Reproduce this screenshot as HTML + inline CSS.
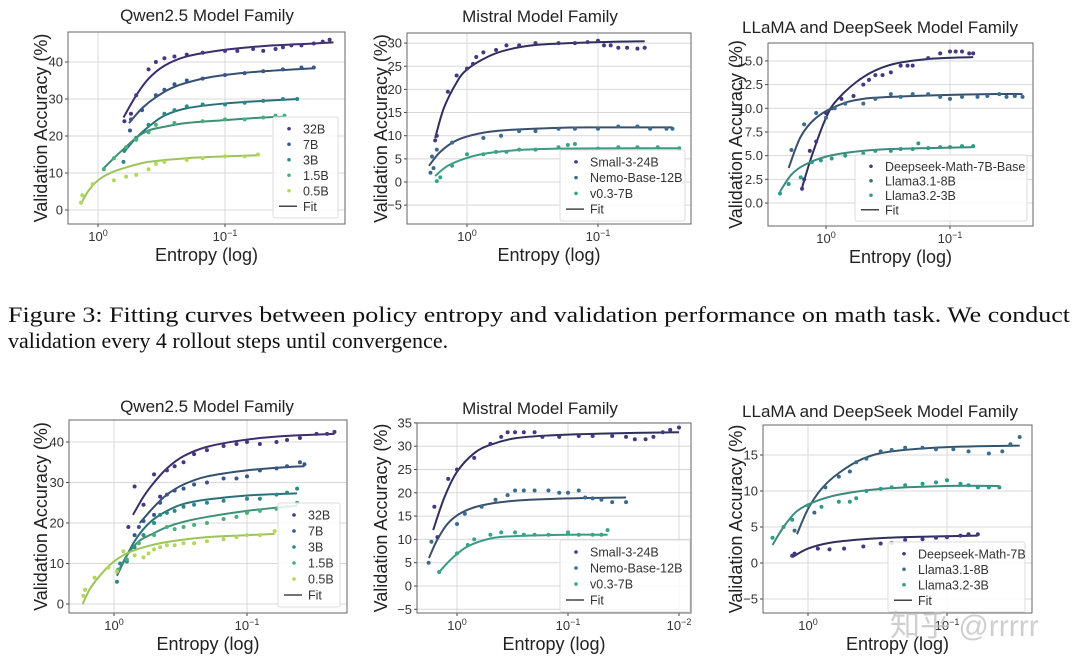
<!DOCTYPE html>
<html><head><meta charset="utf-8"><style>
html,body{margin:0;padding:0;background:#fff;}
svg{display:block;font-family:"Liberation Sans","DejaVu Sans",sans-serif;}
</style></head><body>
<svg id="fig" width="1080" height="666" viewBox="0 0 1080 666" xmlns="http://www.w3.org/2000/svg">
<text x="8" y="322" font-family="Liberation Serif, serif" font-size="22" fill="#111" textLength="1062" lengthAdjust="spacingAndGlyphs">Figure 3: Fitting curves between policy entropy and validation performance on math task. We conduct</text>
<text x="8" y="348" font-family="Liberation Serif, serif" font-size="22" fill="#111">validation every 4 rollout steps until convergence.</text>
</svg>
<script>
const qTopNames = ["32B","7B","3B","1.5B","0.5B"];
const qTop32E = [0.62,0.55,0.5,0.4,0.35,0.3,0.25,0.2,0.15,0.1,0.08,0.06,0.05,0.04,0.035,0.03,0.025,0.02,0.017,0.015];
const qTop32A = [24,26,31,38,40,41,41.5,42,42.5,43,43,43.5,43,43.5,44,44.5,44.5,45,45.5,46];
const qTop32FE = [0.63,0.5,0.4,0.3,0.2,0.1,0.05,0.02,0.014];
const qTop32FA = [25,31,35.5,39,41.5,43.3,44.3,45,45.3];
const qTop7E = [0.56,0.55,0.45,0.35,0.3,0.25,0.2,0.15,0.1,0.07,0.05,0.035,0.025,0.02];
const qTop7A = [21.5,24.5,27,31,32.5,34,35,35.5,36.5,37,37.5,38,38.5,38.5];
const qTop7FE = [0.57,0.45,0.35,0.25,0.15,0.1,0.05,0.02];
const qTop7FA = [23.5,27.5,30.5,33.3,35.5,36.5,37.5,38.3];
const qTop3E = [0.63,0.62,0.5,0.4,0.3,0.25,0.2,0.15,0.1,0.07,0.05,0.035,0.027];
const qTop3A = [13,16,19.5,23,26,27,28,28.5,28.5,29,29.5,30,30];
const qTop3FE = [0.63,0.5,0.4,0.3,0.2,0.1,0.05,0.027];
const qTop3FA = [15.5,19.5,22.5,25.5,27.5,28.8,29.5,30];
const qTop15E = [0.9,0.75,0.6,0.5,0.4,0.35,0.25,0.15,0.1,0.07,0.05,0.04,0.034];
const qTop15A = [11,14,17,19,21,23,23.5,24,24.5,24.5,25,25.5,25.5];
const qTop15FE = [0.92,0.7,0.5,0.4,0.3,0.2,0.1,0.05,0.034];
const qTop15FA = [11,15,19.5,21.5,22.5,23.5,24.3,25,25.2];
const qTop05E = [1.36,1.33,1.1,0.75,0.6,0.5,0.4,0.35,0.3,0.2,0.15,0.1,0.07,0.055];
const qTop05A = [2,4,7,8,9,9.5,11,12.5,13,13.5,14,14.5,14.5,15];
const qTop05FE = [1.37,1.2,1.0,0.8,0.6,0.4,0.2,0.1,0.055];
const qTop05FA = [1.5,5,8,10,11.5,13,14,14.5,14.8];

const mTopNames = ["Small-3-24B","Nemo-Base-12B","v0.3-7B"];
const mTopSE = [1.75,1.7,1.4,1.2,1.0,0.9,0.85,0.75,0.6,0.5,0.4,0.3,0.2,0.15,0.12,0.1,0.09,0.08,0.07,0.06,0.05,0.044];
const mTopSA = [9,10,19.5,23,24.5,25.5,27,28,28.5,29.5,29.5,30,30,30,30.2,30.5,29.5,29.5,29,29,28.8,29];
const mTopSFE = [1.75,1.5,1.2,1.0,0.7,0.5,0.3,0.1,0.044];
const mTopSFA = [9.5,16,21.5,24.3,27,28.5,29.6,30.2,30.4];
const mTopNE = [1.9,1.85,1.8,1.7,1.3,0.75,0.55,0.4,0.3,0.2,0.15,0.1,0.07,0.05,0.04,0.03,0.027];
const mTopNA = [2,5.5,3,7,8.5,9.5,10,11,11,11.5,11.5,11.5,12,12,11.5,11.5,11.5];
const mTopNFE = [1.95,1.6,1.2,0.8,0.5,0.2,0.1,0.027];
const mTopNFA = [3.5,6.5,9,10.5,11.2,11.7,11.8,11.8];
const mTopVE = [1.7,1.6,1.3,1.0,0.75,0.6,0.5,0.4,0.3,0.2,0.17,0.15,0.1,0.07,0.05,0.035,0.024];
const mTopVA = [0.2,1,3.5,6,6,6.5,6.5,7,7,7.5,8,8.2,7.2,7.5,7.5,7.5,7.3];
const mTopVFE = [1.75,1.4,1.0,0.7,0.4,0.2,0.05,0.024];
const mTopVFA = [1.3,3.5,5.2,6.2,6.9,7.2,7.3,7.3];

const lTopNames = ["Deepseek-Math-7B-Base","Llama3.1-8B","Llama3.2-3B"];
const lTopDE = [1.56,1.5,1.35,1.2,1.0,0.9,0.75,0.6,0.5,0.45,0.4,0.35,0.3,0.25,0.22,0.2,0.15,0.12,0.1,0.09,0.08,0.07,0.065];
const lTopDA = [1.5,2.5,5.5,6.5,9.5,10,11,11.3,12.5,13,13.5,13.5,13.8,14.5,14.5,14.5,15.3,15.8,16,16,16,15.8,15.8];
const lTopDFE = [1.57,1.3,1.0,0.8,0.5,0.3,0.15,0.065];
const lTopDFA = [1.5,5,9,11,13.3,14.6,15.2,15.4];
const lTop1E = [1.9,1.5,1.2,1.0,0.85,0.7,0.5,0.4,0.3,0.25,0.2,0.15,0.12,0.1,0.08,0.06,0.05,0.04,0.035,0.03,0.026];
const lTop1A = [5.6,8.3,9.5,9,10,10.5,10.5,11,11.5,11.2,11.5,11.5,11.2,11,11.2,11.2,11.3,11.5,11.2,11.3,11.2];
const lTop1FE = [2.0,1.6,1.2,0.8,0.5,0.2,0.05,0.026];
const lTop1FA = [3.7,7,9,10.3,11,11.3,11.5,11.5];
const lTop2E = [2.35,2.0,1.6,1.3,1.1,0.9,0.7,0.5,0.4,0.3,0.25,0.2,0.18,0.15,0.12,0.1,0.08,0.065];
const lTop2A = [1,2,2.7,4.3,4.5,4.7,5,5.2,5.5,5.5,5.7,5.7,6.3,5.8,5.9,5.9,6,6];
const lTop2FE = [2.35,1.9,1.5,1.0,0.6,0.3,0.065];
const lTop2FA = [1.2,3,4,4.9,5.4,5.7,5.9];

const qBotNames = ["32B","7B","3B","1.5B","0.5B"];
const qBot32E = [0.78,0.7,0.6,0.5,0.45,0.4,0.35,0.3,0.25,0.2,0.15,0.12,0.1,0.08,0.06,0.05,0.04,0.03,0.025,0.022];
const qBot32A = [19,29,24.5,32,26.5,33,34,35,37,38,39,39.5,40,39.5,40,40.5,41,42,42,42.5];
const qBot32FE = [0.72,0.6,0.5,0.4,0.3,0.2,0.1,0.05,0.022];
const qBot32FA = [22,26.5,30,33.5,36.5,38.8,40.6,41.5,42];
const qBot7E = [0.7,0.65,0.6,0.5,0.45,0.4,0.35,0.3,0.25,0.2,0.15,0.12,0.1,0.08,0.06,0.05,0.04,0.037];
const qBot7A = [17,19,20.5,22,25,27,28,28.5,29.5,30,31,31,31.5,33,33.5,34,35,34.5];
const qBot7FE = [0.64,0.5,0.4,0.3,0.2,0.1,0.05,0.037];
const qBot7FA = [20,24,27,29.5,31.5,33,33.8,34];
const qBot3E = [0.95,0.9,0.8,0.7,0.6,0.5,0.45,0.4,0.35,0.3,0.25,0.2,0.15,0.1,0.08,0.06,0.05,0.042];
const qBot3A = [5.5,10,10.5,14,17,20,22,22.5,23,24,24.5,25,25.5,26,26,27,27.5,28.5];
const qBot3FE = [0.95,0.8,0.7,0.6,0.5,0.4,0.3,0.2,0.1,0.042];
const qBot3FA = [7,12,15.5,18.5,21,23,24.7,25.8,26.8,27.3];
const qBot15E = [0.93,0.8,0.65,0.5,0.4,0.35,0.3,0.25,0.2,0.15,0.12,0.1,0.08,0.06,0.05,0.042];
const qBot15A = [8.5,11,15,17,19,18.5,19,19.5,20,21,21.5,22.5,23,23.5,24,25];
const qBot15FE = [0.93,0.8,0.65,0.5,0.4,0.3,0.2,0.1,0.042];
const qBot15FA = [8,12,15.5,17.5,19,20.3,21.5,23,24.3];
const qBot05E = [1.7,1.65,1.4,1.1,0.95,0.85,0.7,0.6,0.55,0.5,0.45,0.4,0.35,0.3,0.25,0.2,0.15,0.12,0.1,0.08,0.062];
const qBot05A = [2,3.5,6.5,9,8,13,12,11.5,12.5,13.5,14,14.5,14.5,15,15,15.5,16,16.5,17,17,18];
const qBot05FE = [1.72,1.5,1.2,1.0,0.8,0.6,0.4,0.2,0.1,0.062];
const qBot05FA = [0,4,8,10.5,12.5,14,15.3,16.5,17,17.3];

const mBotNames = ["Small-3-24B","Nemo-Base-12B","v0.3-7B"];
const mBotSE = [1.6,1.5,1.2,1.0,0.7,0.5,0.4,0.35,0.3,0.25,0.2,0.17,0.12,0.08,0.06,0.04,0.03,0.025,0.02,0.017,0.014,0.012,0.01];
const mBotSA = [17,10.5,23,25,27.5,30.5,32,33,33,33,33,32,32,32.2,32.2,32.2,32,31.5,31.5,32,33,33.5,34];
const mBotSFE = [1.64,1.3,1.0,0.7,0.5,0.3,0.15,0.05,0.01];
const mBotSFA = [12,19,24.5,28.5,30.3,31.7,32.3,32.7,33];
const mBotNE = [1.8,1.7,1.0,0.85,0.6,0.45,0.35,0.3,0.25,0.2,0.15,0.12,0.1,0.08,0.07,0.06,0.05,0.04,0.03];
const mBotNA = [5,9.5,13.3,15.5,17,18.5,19.5,20.5,20.5,20.5,20.5,20,20,20.5,19,18.8,18.5,18,18];
const mBotNFE = [1.79,1.5,1.2,0.9,0.6,0.3,0.1,0.03];
const mBotNFA = [6,10,13.5,15.8,17.3,18.3,18.8,19];
const mBotVE = [1.45,1.0,0.8,0.7,0.5,0.4,0.3,0.25,0.2,0.15,0.1,0.08,0.06,0.05,0.044];
const mBotVA = [3,7,8.8,10,11,11.5,11.5,11,11,11,11.5,11,11,11,12];
const mBotVFE = [1.45,1.1,0.8,0.5,0.3,0.1,0.044];
const mBotVFA = [3,6,8.5,10.2,10.7,11,11];

const lBotNames = ["Deepseek-Math-7B","Llama3.1-8B","Llama3.2-3B"];
const lBotDE = [1.3,1.25,0.85,0.7,0.55,0.4,0.3,0.25,0.2,0.15,0.12,0.1,0.08,0.07,0.06];
const lBotDA = [1,1.3,2,1.9,2,2.3,2.7,2.8,3.2,3.3,3.5,3.6,3.8,4,4];
const lBotDFE = [1.3,1.0,0.7,0.4,0.2,0.06];
const lBotDFA = [0.8,2,2.8,3.3,3.6,3.8];
const lBot1E = [1.25,0.9,0.75,0.6,0.5,0.45,0.38,0.3,0.25,0.2,0.15,0.12,0.09,0.07,0.05,0.04,0.035,0.03];
const lBot1A = [4.5,7,10.5,12,12.7,14,14.5,15.5,15.7,16,16,15.8,15.8,15.5,15.2,15.5,16.5,17.5];
const lBot1FE = [1.2,1.0,0.8,0.6,0.4,0.25,0.1,0.03];
const lBot1FA = [4,7.5,10.3,12.5,14.5,15.5,16.1,16.3];
const lBot2E = [1.8,1.5,1.3,1.0,0.8,0.6,0.5,0.45,0.38,0.3,0.25,0.2,0.15,0.12,0.1,0.08,0.07,0.06,0.05,0.042];
const lBot2A = [3.5,5,6,8,7.8,8.5,8.5,9,10,10.3,10.5,10.8,11,11.2,11.5,11,10.8,10.5,10.5,10.5];
const lBot2FE = [1.8,1.5,1.2,0.9,0.6,0.3,0.1,0.042];
const lBot2FA = [2.5,5,7.2,8.5,9.5,10.3,10.7,10.7];

const qTicks = [0,10,20,30,40];
const mTopTicks = [-5,0,5,10,15,20,25,30];
const lTopTicks = [0,2.5,5,7.5,10,12.5,15];
const mBotTicks = [-5,0,5,10,15,20,25,30,35];
const lBotTicks = [-5,0,5,10,15];

const svg = document.getElementById('fig');
const NS = 'http://www.w3.org/2000/svg';
function mk(tag, attrs, parent){const e=document.createElementNS(NS,tag);for(const k in attrs)e.setAttribute(k,attrs[k]);(parent||svg).appendChild(e);return e;}

function panel(cfg){
  const g = mk('g',{});
  
  
  const X = e => cfg.px1 - Math.log10(e)*cfg.dec;
  const Y = v => cfg.y0 - (v - cfg.yv0)*cfg.ppu;
  const b = cfg.box;
  mk('rect',{x:b[0],y:b[1],width:b[2]-b[0],height:b[3]-b[1],fill:'#fff',stroke:'none'},g);
  cfg.yticks.forEach(t=>{const y=Y(t); if(y<b[1]-0.5||y>b[3]+0.5)return;
    const l=mk('line',{x1:b[0],x2:b[2],y1:y,y2:y,stroke:'#d8d8d8','stroke-width':1},g);
     
    const tx=mk('text',{x:b[0]-5,y:y+4.5,'text-anchor':'end','font-size':13,fill:'#333'},g);
     
    tx.textContent = (t<0?'\u2212'+(-t):(cfg.dec1?t.toFixed(1):String(t)));
    mk('line',{x1:b[0]-3,x2:b[0],y1:y,y2:y,stroke:'#444'},g);
  });
  cfg.xdec.forEach(d=>{const x=X(Math.pow(10,-d));
    const l=mk('line',{x1:x,x2:x,y1:b[1],y2:b[3],stroke:'#d8d8d8','stroke-width':1},g);
     
    const tx=mk('text',{x:x,y:b[3]+17,'text-anchor':'middle','font-size':13,fill:'#333'},g);
     
    tx.innerHTML = '10<tspan dy="-5" font-size="9">'+(d===0?'0':'\u2212'+d)+'</tspan>';
    mk('line',{x1:x,x2:x,y1:b[3],y2:b[3]+3,stroke:'#444'},g);
  });
  cfg.series.forEach((s,i)=>{
    const sg=mk('g',{},g);
    
    
    const pts = s.fe.map((e,j)=>[X(e),Y(s.fa[j])]);
    let d='M'+pts[0][0]+','+pts[0][1];
    for(let j=0;j<pts.length-1;j++){
      const p0=pts[Math.max(0,j-1)],p1=pts[j],p2=pts[j+1],p3=pts[Math.min(pts.length-1,j+2)];
      const c1=[p1[0]+(p2[0]-p0[0])/6,p1[1]+(p2[1]-p0[1])/6],c2=[p2[0]-(p3[0]-p1[0])/6,p2[1]-(p3[1]-p1[1])/6];
      d+=' C'+c1[0]+','+c1[1]+' '+c2[0]+','+c2[1]+' '+p2[0]+','+p2[1];
    }
    const fl=mk('path',{d:d,fill:'none',stroke:s.fit,'stroke-width':2},sg);
     
    s.e.forEach((e,j)=>{
      const c=mk('circle',{cx:X(e),cy:Y(s.a[j]),r:2,fill:s.color},sg);
       
    });
  });
  mk('rect',{x:b[0],y:b[1],width:b[2]-b[0],height:b[3]-b[1],fill:'none',stroke:'#666','stroke-width':1},g);
  const tt=mk('text',{x:cfg.tx,y:cfg.ty,'text-anchor':'middle','font-size':17,fill:'#222'},g);
   
  tt.textContent=cfg.title;
  const xl=mk('text',{x:(b[0]+b[2])/2,y:b[3]+37,'text-anchor':'middle','font-size':18,fill:'#222'},g);
   
  xl.textContent='Entropy (log)';
  const yx=cfg.ylx, yy=(b[1]+b[3])/2;
  const yl=mk('text',{x:yx,y:yy,'text-anchor':'middle','font-size':18,fill:'#222',transform:'rotate(-90 '+yx+' '+yy+')'},g);
   
  yl.textContent='Validation Accuracy (%)';
  const L=cfg.leg;
  const lg=mk('g',{},g);
   
  mk('rect',{x:L[0],y:L[1],width:L[2]-L[0],height:L[3]-L[1],fill:'#fff','fill-opacity':0.85,stroke:'#ddd',rx:2},lg);
  const n=cfg.series.length+1, step=(L[3]-L[1]-8)/n;
  cfg.series.forEach((s,i)=>{
    const cy=L[1]+4+step*(i+0.5);
    const c=mk('circle',{cx:L[0]+16,cy:cy,r:1.8,fill:s.color},lg);
     
    const t=mk('text',{x:L[0]+30,y:cy+4.5,'font-size':12.5,fill:'#333'},lg);
     
    t.textContent=s.label;
  });
  const cy=L[1]+4+step*(n-0.5);
  mk('line',{x1:L[0]+6,x2:L[0]+24,y1:cy,y2:cy,stroke:'#444','stroke-width':1.5},lg);
  const ft=mk('text',{x:L[0]+30,y:cy+4.5,'font-size':12.5,fill:'#333'},lg);
   
  ft.textContent='Fit';
}

const C5=['#453781','#39568c','#2a8a88','#48b07a','#b3d75a'];
const F5=['#3b2d6e','#33506f','#2b6f79','#3e8f75','#9cc45b'];
const C3=['#453781','#3b6c8c','#2f9a86'];
const F3=['#2f2f5c','#3a4f6c','#3c8a7e'];
const S=(label,e,a,fe,fa,c,f)=>({label,e,a,fe,fa,color:c,fit:f});

panel({name:'qwen-top-chart',title:'Qwen2.5 Model Family',tx:207,ty:21,ylx:47,box:[68,32,345,224],px1:98,dec:127,y0:210,yv0:0,ppu:3.7,yticks:qTicks,xdec:[0,1],leg:[273,117,338,218],
 series:[S(qTopNames[0],qTop32E,qTop32A,qTop32FE,qTop32FA,C5[0],F5[0]),S(qTopNames[1],qTop7E,qTop7A,qTop7FE,qTop7FA,C5[1],F5[1]),S(qTopNames[2],qTop3E,qTop3A,qTop3FE,qTop3FA,C5[2],F5[2]),S(qTopNames[3],qTop15E,qTop15A,qTop15FE,qTop15FA,C5[3],F5[3]),S(qTopNames[4],qTop05E,qTop05A,qTop05FE,qTop05FA,C5[4],F5[4])]});
panel({name:'mistral-top-chart',title:'Mistral Model Family',tx:540,ty:22,ylx:387,box:[407,33,691,224],px1:467,dec:131,y0:182,yv0:0,ppu:4.63,yticks:mTopTicks,xdec:[0,1],leg:[560,150,685,221],
 series:[S(mTopNames[0],mTopSE,mTopSA,mTopSFE,mTopSFA,C3[0],F3[0]),S(mTopNames[1],mTopNE,mTopNA,mTopNFE,mTopNFA,'#3b6c8c',F3[1]),S(mTopNames[2],mTopVE,mTopVA,mTopVFE,mTopVFA,'#3aa487','#3a9a86')]});
panel({name:'llama-top-chart',title:'LLaMA and DeepSeek Model Family',tx:880,ty:33,ylx:742,box:[768,43,1033,226],px1:826,dec:124,y0:203,yv0:0,ppu:9.47,yticks:lTopTicks,dec1:true,xdec:[0,1],leg:[855,155,1027,221],
 series:[S(lTopNames[0],lTopDE,lTopDA,lTopDFE,lTopDFA,C3[0],F3[0]),S(lTopNames[1],lTop1E,lTop1A,lTop1FE,lTop1FA,C3[1],F3[1]),S(lTopNames[2],lTop2E,lTop2A,lTop2FE,lTop2FA,C3[2],F3[2])]});
panel({name:'qwen-bottom-chart',title:'Qwen2.5 Model Family',tx:207,ty:412,ylx:47,box:[69,420,347,613],px1:114,dec:133,y0:604,yv0:0,ppu:4.05,yticks:qTicks,xdec:[0,1],leg:[278,503,340,607],
 series:[S(qBotNames[0],qBot32E,qBot32A,qBot32FE,qBot32FA,C5[0],F5[0]),S(qBotNames[1],qBot7E,qBot7A,qBot7FE,qBot7FA,C5[1],F5[1]),S(qBotNames[2],qBot3E,qBot3A,qBot3FE,qBot3FA,C5[2],F5[2]),S(qBotNames[3],qBot15E,qBot15A,qBot15FE,qBot15FA,C5[3],F5[3]),S(qBotNames[4],qBot05E,qBot05A,qBot05FE,qBot05FA,C5[4],F5[4])]});
panel({name:'mistral-bottom-chart',title:'Mistral Model Family',tx:540,ty:414,ylx:387,box:[417,423,691,613],px1:457,dec:111,y0:586,yv0:0,ppu:4.66,yticks:mBotTicks,xdec:[0,1,2],leg:[560,540,690,612],
 series:[S(mBotNames[0],mBotSE,mBotSA,mBotSFE,mBotSFA,C3[0],F3[0]),S(mBotNames[1],mBotNE,mBotNA,mBotNFE,mBotNFA,'#3b6c8c',F3[1]),S(mBotNames[2],mBotVE,mBotVA,mBotVFE,mBotVFA,'#3aa487','#3a9a86')]});
panel({name:'llama-bottom-chart',title:'LLaMA and DeepSeek Model Family',tx:880,ty:417,ylx:742,box:[763,425,1032,613],px1:808,dec:139,y0:563,yv0:0,ppu:7.2,yticks:lBotTicks,xdec:[0,1],leg:[888,542,1025,612],
 series:[S(lBotNames[0],lBotDE,lBotDA,lBotDFE,lBotDFA,C3[0],F3[0]),S(lBotNames[1],lBot1E,lBot1A,lBot1FE,lBot1FA,'#3d6a8a','#34546e'),S(lBotNames[2],lBot2E,lBot2A,lBot2FE,lBot2FA,'#2f9a86','#3c8a7e')]});

const wm=mk('text',{x:890,y:636,'font-size':30,fill:'#bbb','fill-opacity':0.7,'font-family':'"Liberation Sans","Noto Sans CJK SC",sans-serif'});


wm.textContent='知乎 @rrrrr';
</script>
</body></html>
